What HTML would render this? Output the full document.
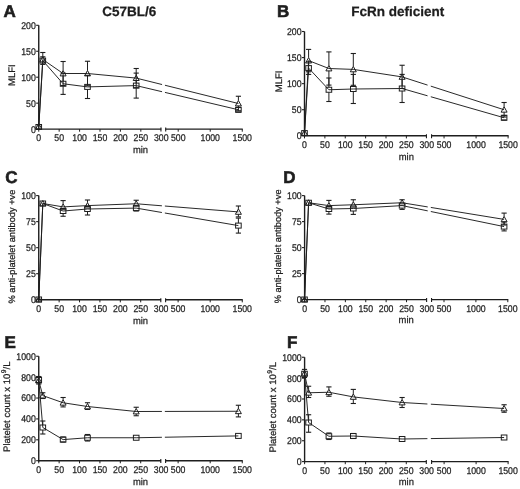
<!DOCTYPE html>
<html><head><meta charset="utf-8"><style>
html,body{margin:0;padding:0;background:#fff;}
body{width:520px;height:489px;overflow:hidden;}
svg{display:block;font-family:"Liberation Sans", sans-serif;text-rendering:geometricPrecision;filter:grayscale(1) blur(0.3px);}
text{fill:#1e1e1e;stroke:#1e1e1e;stroke-width:0.25px;}
</style></head><body>
<svg width="520" height="489" viewBox="0 0 520 489">
<rect width="520" height="489" fill="#fff"/>
<line x1="38.75" y1="129.8" x2="38.75" y2="25.3" stroke="#1e1e1e" stroke-width="1.4"/>
<line x1="36.15" y1="129.1" x2="38.75" y2="129.1" stroke="#1e1e1e" stroke-width="1.1"/>
<text transform="translate(35.75 132.5) scale(0.895 1)" font-size="9.75" text-anchor="end">0</text>
<line x1="36.15" y1="103.15" x2="38.75" y2="103.15" stroke="#1e1e1e" stroke-width="1.1"/>
<text transform="translate(35.75 106.55) scale(0.895 1)" font-size="9.75" text-anchor="end">50</text>
<line x1="36.15" y1="77.2" x2="38.75" y2="77.2" stroke="#1e1e1e" stroke-width="1.1"/>
<text transform="translate(35.75 80.6) scale(0.895 1)" font-size="9.75" text-anchor="end">100</text>
<line x1="36.15" y1="51.25" x2="38.75" y2="51.25" stroke="#1e1e1e" stroke-width="1.1"/>
<text transform="translate(35.75 54.65) scale(0.895 1)" font-size="9.75" text-anchor="end">150</text>
<line x1="36.15" y1="25.3" x2="38.75" y2="25.3" stroke="#1e1e1e" stroke-width="1.1"/>
<text transform="translate(35.75 28.7) scale(0.895 1)" font-size="9.75" text-anchor="end">200</text>
<line x1="38.05" y1="129.1" x2="161.25" y2="129.1" stroke="#1e1e1e" stroke-width="1.4"/>
<line x1="165.4" y1="129.1" x2="242.75" y2="129.1" stroke="#1e1e1e" stroke-width="1.4"/>
<line x1="160.95" y1="127.5" x2="160.95" y2="131.5" stroke="#1e1e1e" stroke-width="1.1"/>
<line x1="165.7" y1="127.5" x2="165.7" y2="131.5" stroke="#1e1e1e" stroke-width="1.1"/>
<line x1="38.75" y1="129.1" x2="38.75" y2="131.7" stroke="#1e1e1e" stroke-width="1.0"/>
<text transform="translate(38.75 141.1) scale(0.895 1)" font-size="9.75" text-anchor="middle">0</text>
<line x1="59.17" y1="129.1" x2="59.17" y2="131.7" stroke="#1e1e1e" stroke-width="1.0"/>
<text transform="translate(59.17 141.1) scale(0.895 1)" font-size="9.75" text-anchor="middle">50</text>
<line x1="79.58" y1="129.1" x2="79.58" y2="131.7" stroke="#1e1e1e" stroke-width="1.0"/>
<text transform="translate(79.58 141.1) scale(0.895 1)" font-size="9.75" text-anchor="middle">100</text>
<line x1="100" y1="129.1" x2="100" y2="131.7" stroke="#1e1e1e" stroke-width="1.0"/>
<text transform="translate(100 141.1) scale(0.895 1)" font-size="9.75" text-anchor="middle">150</text>
<line x1="120.42" y1="129.1" x2="120.42" y2="131.7" stroke="#1e1e1e" stroke-width="1.0"/>
<text transform="translate(120.42 141.1) scale(0.895 1)" font-size="9.75" text-anchor="middle">200</text>
<line x1="140.83" y1="129.1" x2="140.83" y2="131.7" stroke="#1e1e1e" stroke-width="1.0"/>
<text transform="translate(140.83 141.1) scale(0.895 1)" font-size="9.75" text-anchor="middle">250</text>
<text transform="translate(161.25 141.1) scale(0.895 1)" font-size="9.75" text-anchor="middle">300</text>
<line x1="178.21" y1="129.1" x2="178.21" y2="131.7" stroke="#1e1e1e" stroke-width="1.0"/>
<text transform="translate(178.21 141.1) scale(0.895 1)" font-size="9.75" text-anchor="middle">500</text>
<line x1="210.23" y1="129.1" x2="210.23" y2="131.7" stroke="#1e1e1e" stroke-width="1.0"/>
<text transform="translate(210.23 141.1) scale(0.895 1)" font-size="9.75" text-anchor="middle">1000</text>
<line x1="242.25" y1="129.1" x2="242.25" y2="131.7" stroke="#1e1e1e" stroke-width="1.0"/>
<text transform="translate(242.25 141.1) scale(0.895 1)" font-size="9.75" text-anchor="middle">1500</text>
<text transform="translate(140.5 152.9) scale(0.97 1)" font-size="9.7" text-anchor="middle">min</text>
<text x="15.4" y="75.15" font-size="9.5" text-anchor="middle" transform="rotate(-90 15.4 75.15)">MLFI</text>
<text x="3.6" y="16.6" font-size="17.0" font-weight="bold" style="stroke-width:0.6px">A</text>
<text x="129.2" y="15.8" font-size="13.5" text-anchor="middle" font-weight="bold">C57BL/6</text>
<clipPath id="cA"><rect x="0" y="0" width="162.05" height="489"/><rect x="164.95" y="0" width="355.05" height="489"/></clipPath>
<path d="M38.75 126.5 L42.8 59.5 L63.1 73.5 L87.5 73.5 L136.2 78.1 L238.4 103.5" fill="none" stroke="#1e1e1e" stroke-width="0.95" clip-path="url(#cA)"/>
<path d="M38.75 127 L42.8 60.6 L63.1 83.75 L87.5 86.9 L136.2 85.6 L238.4 109.75" fill="none" stroke="#1e1e1e" stroke-width="0.95" clip-path="url(#cA)"/>
<line x1="42.8" y1="56.5" x2="42.8" y2="52.5" stroke="#1e1e1e" stroke-width="1.0"/>
<line x1="40.2" y1="52.5" x2="45.4" y2="52.5" stroke="#1e1e1e" stroke-width="1.1"/>
<line x1="63.1" y1="70.5" x2="63.1" y2="61.5" stroke="#1e1e1e" stroke-width="1.0"/>
<line x1="60.5" y1="61.5" x2="65.7" y2="61.5" stroke="#1e1e1e" stroke-width="1.1"/>
<line x1="63.1" y1="75.9" x2="63.1" y2="85.5" stroke="#1e1e1e" stroke-width="1.0"/>
<line x1="60.5" y1="85.5" x2="65.7" y2="85.5" stroke="#1e1e1e" stroke-width="1.1"/>
<line x1="87.5" y1="70.5" x2="87.5" y2="61.25" stroke="#1e1e1e" stroke-width="1.0"/>
<line x1="84.9" y1="61.25" x2="90.1" y2="61.25" stroke="#1e1e1e" stroke-width="1.1"/>
<line x1="87.5" y1="75.9" x2="87.5" y2="85.75" stroke="#1e1e1e" stroke-width="1.0"/>
<line x1="84.9" y1="85.75" x2="90.1" y2="85.75" stroke="#1e1e1e" stroke-width="1.1"/>
<line x1="136.2" y1="75.1" x2="136.2" y2="68.5" stroke="#1e1e1e" stroke-width="1.0"/>
<line x1="133.6" y1="68.5" x2="138.8" y2="68.5" stroke="#1e1e1e" stroke-width="1.1"/>
<line x1="136.2" y1="80.5" x2="136.2" y2="87.7" stroke="#1e1e1e" stroke-width="1.0"/>
<line x1="133.6" y1="87.7" x2="138.8" y2="87.7" stroke="#1e1e1e" stroke-width="1.1"/>
<line x1="238.4" y1="100.5" x2="238.4" y2="96.25" stroke="#1e1e1e" stroke-width="1.0"/>
<line x1="235.8" y1="96.25" x2="241" y2="96.25" stroke="#1e1e1e" stroke-width="1.1"/>
<line x1="238.4" y1="105.9" x2="238.4" y2="110.75" stroke="#1e1e1e" stroke-width="1.0"/>
<line x1="235.8" y1="110.75" x2="241" y2="110.75" stroke="#1e1e1e" stroke-width="1.1"/>
<line x1="42.8" y1="58.1" x2="42.8" y2="56.8" stroke="#1e1e1e" stroke-width="1.0"/>
<line x1="40.2" y1="56.8" x2="45.4" y2="56.8" stroke="#1e1e1e" stroke-width="1.1"/>
<line x1="42.8" y1="63.1" x2="42.8" y2="64.4" stroke="#1e1e1e" stroke-width="1.0"/>
<line x1="40.2" y1="64.4" x2="45.4" y2="64.4" stroke="#1e1e1e" stroke-width="1.1"/>
<line x1="63.1" y1="81.25" x2="63.1" y2="73.1" stroke="#1e1e1e" stroke-width="1.0"/>
<line x1="60.5" y1="73.1" x2="65.7" y2="73.1" stroke="#1e1e1e" stroke-width="1.1"/>
<line x1="63.1" y1="86.25" x2="63.1" y2="94.4" stroke="#1e1e1e" stroke-width="1.0"/>
<line x1="60.5" y1="94.4" x2="65.7" y2="94.4" stroke="#1e1e1e" stroke-width="1.1"/>
<line x1="87.5" y1="84.4" x2="87.5" y2="75.3" stroke="#1e1e1e" stroke-width="1.0"/>
<line x1="84.9" y1="75.3" x2="90.1" y2="75.3" stroke="#1e1e1e" stroke-width="1.1"/>
<line x1="87.5" y1="89.4" x2="87.5" y2="98.5" stroke="#1e1e1e" stroke-width="1.0"/>
<line x1="84.9" y1="98.5" x2="90.1" y2="98.5" stroke="#1e1e1e" stroke-width="1.1"/>
<line x1="136.2" y1="83.1" x2="136.2" y2="73.1" stroke="#1e1e1e" stroke-width="1.0"/>
<line x1="133.6" y1="73.1" x2="138.8" y2="73.1" stroke="#1e1e1e" stroke-width="1.1"/>
<line x1="136.2" y1="88.1" x2="136.2" y2="98.1" stroke="#1e1e1e" stroke-width="1.0"/>
<line x1="133.6" y1="98.1" x2="138.8" y2="98.1" stroke="#1e1e1e" stroke-width="1.1"/>
<line x1="235.8" y1="107.5" x2="241" y2="107.5" stroke="#1e1e1e" stroke-width="1.1"/>
<line x1="235.8" y1="112" x2="241" y2="112" stroke="#1e1e1e" stroke-width="1.1"/>
<path d="M38.75 123.5 L41.75 128.9 L35.75 128.9 Z" fill="none" stroke="#1e1e1e" stroke-width="1.0" stroke-linejoin="miter"/>
<path d="M42.8 56.5 L45.8 61.9 L39.8 61.9 Z" fill="none" stroke="#1e1e1e" stroke-width="1.0" stroke-linejoin="miter"/>
<path d="M63.1 70.5 L66.1 75.9 L60.1 75.9 Z" fill="none" stroke="#1e1e1e" stroke-width="1.0" stroke-linejoin="miter"/>
<path d="M87.5 70.5 L90.5 75.9 L84.5 75.9 Z" fill="none" stroke="#1e1e1e" stroke-width="1.0" stroke-linejoin="miter"/>
<path d="M136.2 75.1 L139.2 80.5 L133.2 80.5 Z" fill="none" stroke="#1e1e1e" stroke-width="1.0" stroke-linejoin="miter"/>
<path d="M238.4 100.5 L241.4 105.9 L235.4 105.9 Z" fill="none" stroke="#1e1e1e" stroke-width="1.0" stroke-linejoin="miter"/>
<rect x="35.95" y="124.5" width="5.6" height="5" fill="none" stroke="#1e1e1e" stroke-width="1.0"/>
<rect x="40" y="58.1" width="5.6" height="5" fill="none" stroke="#1e1e1e" stroke-width="1.0"/>
<rect x="60.3" y="81.25" width="5.6" height="5" fill="none" stroke="#1e1e1e" stroke-width="1.0"/>
<rect x="84.7" y="84.4" width="5.6" height="5" fill="none" stroke="#1e1e1e" stroke-width="1.0"/>
<rect x="133.4" y="83.1" width="5.6" height="5" fill="none" stroke="#1e1e1e" stroke-width="1.0"/>
<rect x="235.6" y="107.25" width="5.6" height="5" fill="none" stroke="#1e1e1e" stroke-width="1.0"/>
<line x1="304.5" y1="136.5" x2="304.5" y2="31.5" stroke="#1e1e1e" stroke-width="1.4"/>
<line x1="301.9" y1="135.8" x2="304.5" y2="135.8" stroke="#1e1e1e" stroke-width="1.1"/>
<text transform="translate(301.5 139.2) scale(0.895 1)" font-size="9.75" text-anchor="end">0</text>
<line x1="301.9" y1="109.73" x2="304.5" y2="109.73" stroke="#1e1e1e" stroke-width="1.1"/>
<text transform="translate(301.5 113.13) scale(0.895 1)" font-size="9.75" text-anchor="end">50</text>
<line x1="301.9" y1="83.65" x2="304.5" y2="83.65" stroke="#1e1e1e" stroke-width="1.1"/>
<text transform="translate(301.5 87.05) scale(0.895 1)" font-size="9.75" text-anchor="end">100</text>
<line x1="301.9" y1="57.58" x2="304.5" y2="57.58" stroke="#1e1e1e" stroke-width="1.1"/>
<text transform="translate(301.5 60.98) scale(0.895 1)" font-size="9.75" text-anchor="end">150</text>
<line x1="301.9" y1="31.5" x2="304.5" y2="31.5" stroke="#1e1e1e" stroke-width="1.1"/>
<text transform="translate(301.5 34.9) scale(0.895 1)" font-size="9.75" text-anchor="end">200</text>
<line x1="303.8" y1="135.8" x2="426.75" y2="135.8" stroke="#1e1e1e" stroke-width="1.4"/>
<line x1="431.25" y1="135.8" x2="508.6" y2="135.8" stroke="#1e1e1e" stroke-width="1.4"/>
<line x1="426.45" y1="134.2" x2="426.45" y2="138.2" stroke="#1e1e1e" stroke-width="1.1"/>
<line x1="431.55" y1="134.2" x2="431.55" y2="138.2" stroke="#1e1e1e" stroke-width="1.1"/>
<line x1="304.5" y1="135.8" x2="304.5" y2="138.4" stroke="#1e1e1e" stroke-width="1.0"/>
<text transform="translate(304.5 147.8) scale(0.895 1)" font-size="9.75" text-anchor="middle">0</text>
<line x1="324.88" y1="135.8" x2="324.88" y2="138.4" stroke="#1e1e1e" stroke-width="1.0"/>
<text transform="translate(324.88 147.8) scale(0.895 1)" font-size="9.75" text-anchor="middle">50</text>
<line x1="345.25" y1="135.8" x2="345.25" y2="138.4" stroke="#1e1e1e" stroke-width="1.0"/>
<text transform="translate(345.25 147.8) scale(0.895 1)" font-size="9.75" text-anchor="middle">100</text>
<line x1="365.62" y1="135.8" x2="365.62" y2="138.4" stroke="#1e1e1e" stroke-width="1.0"/>
<text transform="translate(365.62 147.8) scale(0.895 1)" font-size="9.75" text-anchor="middle">150</text>
<line x1="386" y1="135.8" x2="386" y2="138.4" stroke="#1e1e1e" stroke-width="1.0"/>
<text transform="translate(386 147.8) scale(0.895 1)" font-size="9.75" text-anchor="middle">200</text>
<line x1="406.38" y1="135.8" x2="406.38" y2="138.4" stroke="#1e1e1e" stroke-width="1.0"/>
<text transform="translate(406.38 147.8) scale(0.895 1)" font-size="9.75" text-anchor="middle">250</text>
<text transform="translate(426.75 147.8) scale(0.895 1)" font-size="9.75" text-anchor="middle">300</text>
<line x1="444.06" y1="135.8" x2="444.06" y2="138.4" stroke="#1e1e1e" stroke-width="1.0"/>
<text transform="translate(444.06 147.8) scale(0.895 1)" font-size="9.75" text-anchor="middle">500</text>
<line x1="476.08" y1="135.8" x2="476.08" y2="138.4" stroke="#1e1e1e" stroke-width="1.0"/>
<text transform="translate(476.08 147.8) scale(0.895 1)" font-size="9.75" text-anchor="middle">1000</text>
<line x1="508.1" y1="135.8" x2="508.1" y2="138.4" stroke="#1e1e1e" stroke-width="1.0"/>
<text transform="translate(508.1 147.8) scale(0.895 1)" font-size="9.75" text-anchor="middle">1500</text>
<text transform="translate(406.3 159.6) scale(0.97 1)" font-size="9.7" text-anchor="middle">min</text>
<text x="281.6" y="81.4" font-size="9.5" text-anchor="middle" transform="rotate(-90 281.6 81.4)">MLFI</text>
<text x="276.9" y="16.6" font-size="17.0" font-weight="bold" style="stroke-width:0.6px">B</text>
<text x="397.7" y="16.1" font-size="13.5" text-anchor="middle" font-weight="bold">FcRn deficient</text>
<clipPath id="cB"><rect x="0" y="0" width="427.55" height="489"/><rect x="430.8" y="0" width="89.2" height="489"/></clipPath>
<path d="M304.5 133.1 L308.6 60.6 L328.9 68.5 L353.3 69.4 L402.1 76.9 L504.1 109.75" fill="none" stroke="#1e1e1e" stroke-width="0.95" clip-path="url(#cB)"/>
<path d="M304.5 133.1 L308.6 68.1 L328.9 89.75 L353.3 89 L402.1 88.5 L504.1 117.75" fill="none" stroke="#1e1e1e" stroke-width="0.95" clip-path="url(#cB)"/>
<line x1="308.6" y1="57.6" x2="308.6" y2="49.4" stroke="#1e1e1e" stroke-width="1.0"/>
<line x1="306" y1="49.4" x2="311.2" y2="49.4" stroke="#1e1e1e" stroke-width="1.1"/>
<line x1="308.6" y1="63" x2="308.6" y2="71.8" stroke="#1e1e1e" stroke-width="1.0"/>
<line x1="306" y1="71.8" x2="311.2" y2="71.8" stroke="#1e1e1e" stroke-width="1.1"/>
<line x1="328.9" y1="65.5" x2="328.9" y2="51.9" stroke="#1e1e1e" stroke-width="1.0"/>
<line x1="326.3" y1="51.9" x2="331.5" y2="51.9" stroke="#1e1e1e" stroke-width="1.1"/>
<line x1="328.9" y1="70.9" x2="328.9" y2="85.1" stroke="#1e1e1e" stroke-width="1.0"/>
<line x1="326.3" y1="85.1" x2="331.5" y2="85.1" stroke="#1e1e1e" stroke-width="1.1"/>
<line x1="353.3" y1="66.4" x2="353.3" y2="53.5" stroke="#1e1e1e" stroke-width="1.0"/>
<line x1="350.7" y1="53.5" x2="355.9" y2="53.5" stroke="#1e1e1e" stroke-width="1.1"/>
<line x1="353.3" y1="71.8" x2="353.3" y2="85.3" stroke="#1e1e1e" stroke-width="1.0"/>
<line x1="350.7" y1="85.3" x2="355.9" y2="85.3" stroke="#1e1e1e" stroke-width="1.1"/>
<line x1="402.1" y1="73.9" x2="402.1" y2="65.25" stroke="#1e1e1e" stroke-width="1.0"/>
<line x1="399.5" y1="65.25" x2="404.7" y2="65.25" stroke="#1e1e1e" stroke-width="1.1"/>
<line x1="402.1" y1="79.3" x2="402.1" y2="88.5" stroke="#1e1e1e" stroke-width="1.0"/>
<line x1="399.5" y1="88.5" x2="404.7" y2="88.5" stroke="#1e1e1e" stroke-width="1.1"/>
<line x1="504.1" y1="106.75" x2="504.1" y2="102.5" stroke="#1e1e1e" stroke-width="1.0"/>
<line x1="501.5" y1="102.5" x2="506.7" y2="102.5" stroke="#1e1e1e" stroke-width="1.1"/>
<line x1="504.1" y1="112.15" x2="504.1" y2="117" stroke="#1e1e1e" stroke-width="1.0"/>
<line x1="501.5" y1="117" x2="506.7" y2="117" stroke="#1e1e1e" stroke-width="1.1"/>
<line x1="308.6" y1="65.6" x2="308.6" y2="61.8" stroke="#1e1e1e" stroke-width="1.0"/>
<line x1="306" y1="61.8" x2="311.2" y2="61.8" stroke="#1e1e1e" stroke-width="1.1"/>
<line x1="308.6" y1="70.6" x2="308.6" y2="74.4" stroke="#1e1e1e" stroke-width="1.0"/>
<line x1="306" y1="74.4" x2="311.2" y2="74.4" stroke="#1e1e1e" stroke-width="1.1"/>
<line x1="328.9" y1="87.25" x2="328.9" y2="78" stroke="#1e1e1e" stroke-width="1.0"/>
<line x1="326.3" y1="78" x2="331.5" y2="78" stroke="#1e1e1e" stroke-width="1.1"/>
<line x1="328.9" y1="92.25" x2="328.9" y2="101.5" stroke="#1e1e1e" stroke-width="1.0"/>
<line x1="326.3" y1="101.5" x2="331.5" y2="101.5" stroke="#1e1e1e" stroke-width="1.1"/>
<line x1="353.3" y1="86.5" x2="353.3" y2="74.4" stroke="#1e1e1e" stroke-width="1.0"/>
<line x1="350.7" y1="74.4" x2="355.9" y2="74.4" stroke="#1e1e1e" stroke-width="1.1"/>
<line x1="353.3" y1="91.5" x2="353.3" y2="103.5" stroke="#1e1e1e" stroke-width="1.0"/>
<line x1="350.7" y1="103.5" x2="355.9" y2="103.5" stroke="#1e1e1e" stroke-width="1.1"/>
<line x1="402.1" y1="86" x2="402.1" y2="74.4" stroke="#1e1e1e" stroke-width="1.0"/>
<line x1="399.5" y1="74.4" x2="404.7" y2="74.4" stroke="#1e1e1e" stroke-width="1.1"/>
<line x1="402.1" y1="91" x2="402.1" y2="102.5" stroke="#1e1e1e" stroke-width="1.0"/>
<line x1="399.5" y1="102.5" x2="404.7" y2="102.5" stroke="#1e1e1e" stroke-width="1.1"/>
<line x1="501.5" y1="115.5" x2="506.7" y2="115.5" stroke="#1e1e1e" stroke-width="1.1"/>
<line x1="501.5" y1="120" x2="506.7" y2="120" stroke="#1e1e1e" stroke-width="1.1"/>
<path d="M304.5 130.1 L307.5 135.5 L301.5 135.5 Z" fill="none" stroke="#1e1e1e" stroke-width="1.0" stroke-linejoin="miter"/>
<path d="M308.6 57.6 L311.6 63 L305.6 63 Z" fill="none" stroke="#1e1e1e" stroke-width="1.0" stroke-linejoin="miter"/>
<path d="M328.9 65.5 L331.9 70.9 L325.9 70.9 Z" fill="none" stroke="#1e1e1e" stroke-width="1.0" stroke-linejoin="miter"/>
<path d="M353.3 66.4 L356.3 71.8 L350.3 71.8 Z" fill="none" stroke="#1e1e1e" stroke-width="1.0" stroke-linejoin="miter"/>
<path d="M402.1 73.9 L405.1 79.3 L399.1 79.3 Z" fill="none" stroke="#1e1e1e" stroke-width="1.0" stroke-linejoin="miter"/>
<path d="M504.1 106.75 L507.1 112.15 L501.1 112.15 Z" fill="none" stroke="#1e1e1e" stroke-width="1.0" stroke-linejoin="miter"/>
<rect x="301.7" y="130.6" width="5.6" height="5" fill="none" stroke="#1e1e1e" stroke-width="1.0"/>
<rect x="305.8" y="65.6" width="5.6" height="5" fill="none" stroke="#1e1e1e" stroke-width="1.0"/>
<rect x="326.1" y="87.25" width="5.6" height="5" fill="none" stroke="#1e1e1e" stroke-width="1.0"/>
<rect x="350.5" y="86.5" width="5.6" height="5" fill="none" stroke="#1e1e1e" stroke-width="1.0"/>
<rect x="399.3" y="86" width="5.6" height="5" fill="none" stroke="#1e1e1e" stroke-width="1.0"/>
<rect x="501.3" y="115.25" width="5.6" height="5" fill="none" stroke="#1e1e1e" stroke-width="1.0"/>
<line x1="38.75" y1="300.45" x2="38.75" y2="195.6" stroke="#1e1e1e" stroke-width="1.4"/>
<line x1="36.15" y1="299.75" x2="38.75" y2="299.75" stroke="#1e1e1e" stroke-width="1.1"/>
<text transform="translate(35.75 303.15) scale(0.895 1)" font-size="9.75" text-anchor="end">0</text>
<line x1="36.15" y1="273.71" x2="38.75" y2="273.71" stroke="#1e1e1e" stroke-width="1.1"/>
<text transform="translate(35.75 277.11) scale(0.895 1)" font-size="9.75" text-anchor="end">25</text>
<line x1="36.15" y1="247.68" x2="38.75" y2="247.68" stroke="#1e1e1e" stroke-width="1.1"/>
<text transform="translate(35.75 251.08) scale(0.895 1)" font-size="9.75" text-anchor="end">50</text>
<line x1="36.15" y1="221.64" x2="38.75" y2="221.64" stroke="#1e1e1e" stroke-width="1.1"/>
<text transform="translate(35.75 225.04) scale(0.895 1)" font-size="9.75" text-anchor="end">75</text>
<line x1="36.15" y1="195.6" x2="38.75" y2="195.6" stroke="#1e1e1e" stroke-width="1.1"/>
<text transform="translate(35.75 199) scale(0.895 1)" font-size="9.75" text-anchor="end">100</text>
<line x1="38.05" y1="299.75" x2="161.1" y2="299.75" stroke="#1e1e1e" stroke-width="1.4"/>
<line x1="165.3" y1="299.75" x2="242.75" y2="299.75" stroke="#1e1e1e" stroke-width="1.4"/>
<line x1="160.8" y1="298.15" x2="160.8" y2="302.15" stroke="#1e1e1e" stroke-width="1.1"/>
<line x1="165.6" y1="298.15" x2="165.6" y2="302.15" stroke="#1e1e1e" stroke-width="1.1"/>
<line x1="38.75" y1="299.75" x2="38.75" y2="302.35" stroke="#1e1e1e" stroke-width="1.0"/>
<text transform="translate(38.75 311.75) scale(0.895 1)" font-size="9.75" text-anchor="middle">0</text>
<line x1="59.14" y1="299.75" x2="59.14" y2="302.35" stroke="#1e1e1e" stroke-width="1.0"/>
<text transform="translate(59.14 311.75) scale(0.895 1)" font-size="9.75" text-anchor="middle">50</text>
<line x1="79.53" y1="299.75" x2="79.53" y2="302.35" stroke="#1e1e1e" stroke-width="1.0"/>
<text transform="translate(79.53 311.75) scale(0.895 1)" font-size="9.75" text-anchor="middle">100</text>
<line x1="99.92" y1="299.75" x2="99.92" y2="302.35" stroke="#1e1e1e" stroke-width="1.0"/>
<text transform="translate(99.92 311.75) scale(0.895 1)" font-size="9.75" text-anchor="middle">150</text>
<line x1="120.32" y1="299.75" x2="120.32" y2="302.35" stroke="#1e1e1e" stroke-width="1.0"/>
<text transform="translate(120.32 311.75) scale(0.895 1)" font-size="9.75" text-anchor="middle">200</text>
<line x1="140.71" y1="299.75" x2="140.71" y2="302.35" stroke="#1e1e1e" stroke-width="1.0"/>
<text transform="translate(140.71 311.75) scale(0.895 1)" font-size="9.75" text-anchor="middle">250</text>
<text transform="translate(161.1 311.75) scale(0.895 1)" font-size="9.75" text-anchor="middle">300</text>
<line x1="178.12" y1="299.75" x2="178.12" y2="302.35" stroke="#1e1e1e" stroke-width="1.0"/>
<text transform="translate(178.12 311.75) scale(0.895 1)" font-size="9.75" text-anchor="middle">500</text>
<line x1="210.19" y1="299.75" x2="210.19" y2="302.35" stroke="#1e1e1e" stroke-width="1.0"/>
<text transform="translate(210.19 311.75) scale(0.895 1)" font-size="9.75" text-anchor="middle">1000</text>
<line x1="242.25" y1="299.75" x2="242.25" y2="302.35" stroke="#1e1e1e" stroke-width="1.0"/>
<text transform="translate(242.25 311.75) scale(0.895 1)" font-size="9.75" text-anchor="middle">1500</text>
<text transform="translate(140.5 323.55) scale(0.97 1)" font-size="9.7" text-anchor="middle">min</text>
<text x="15.5" y="246.6" font-size="9.25" text-anchor="middle" transform="rotate(-90 15.5 246.6)">% anti-platelet antibody +ve</text>
<text x="5.2" y="183.1" font-size="17.0" font-weight="bold" style="stroke-width:0.6px">C</text>
<clipPath id="cC"><rect x="0" y="0" width="161.9" height="489"/><rect x="164.85" y="0" width="355.15" height="489"/></clipPath>
<path d="M38.75 299.5 L42.8 203.5 L63.1 206.9 L87.5 205.6 L136.2 203.75 L238.4 211.9" fill="none" stroke="#1e1e1e" stroke-width="0.95" clip-path="url(#cC)"/>
<path d="M38.75 299.5 L42.8 203.5 L63.1 211 L87.5 209 L136.2 208.1 L238.4 225.6" fill="none" stroke="#1e1e1e" stroke-width="0.95" clip-path="url(#cC)"/>
<line x1="63.1" y1="203.9" x2="63.1" y2="200.6" stroke="#1e1e1e" stroke-width="1.0"/>
<line x1="60.5" y1="200.6" x2="65.7" y2="200.6" stroke="#1e1e1e" stroke-width="1.1"/>
<line x1="87.5" y1="202.6" x2="87.5" y2="200" stroke="#1e1e1e" stroke-width="1.0"/>
<line x1="84.9" y1="200" x2="90.1" y2="200" stroke="#1e1e1e" stroke-width="1.1"/>
<line x1="136.2" y1="200.75" x2="136.2" y2="200.25" stroke="#1e1e1e" stroke-width="1.0"/>
<line x1="133.6" y1="200.25" x2="138.8" y2="200.25" stroke="#1e1e1e" stroke-width="1.1"/>
<line x1="238.4" y1="208.9" x2="238.4" y2="206" stroke="#1e1e1e" stroke-width="1.0"/>
<line x1="235.8" y1="206" x2="241" y2="206" stroke="#1e1e1e" stroke-width="1.1"/>
<line x1="238.4" y1="214.3" x2="238.4" y2="216.9" stroke="#1e1e1e" stroke-width="1.0"/>
<line x1="235.8" y1="216.9" x2="241" y2="216.9" stroke="#1e1e1e" stroke-width="1.1"/>
<line x1="63.1" y1="213.5" x2="63.1" y2="216.25" stroke="#1e1e1e" stroke-width="1.0"/>
<line x1="60.5" y1="216.25" x2="65.7" y2="216.25" stroke="#1e1e1e" stroke-width="1.1"/>
<line x1="87.5" y1="211.5" x2="87.5" y2="215" stroke="#1e1e1e" stroke-width="1.0"/>
<line x1="84.9" y1="215" x2="90.1" y2="215" stroke="#1e1e1e" stroke-width="1.1"/>
<line x1="136.2" y1="210.6" x2="136.2" y2="211" stroke="#1e1e1e" stroke-width="1.0"/>
<line x1="133.6" y1="211" x2="138.8" y2="211" stroke="#1e1e1e" stroke-width="1.1"/>
<line x1="238.4" y1="223.1" x2="238.4" y2="218.1" stroke="#1e1e1e" stroke-width="1.0"/>
<line x1="235.8" y1="218.1" x2="241" y2="218.1" stroke="#1e1e1e" stroke-width="1.1"/>
<line x1="238.4" y1="228.1" x2="238.4" y2="233.1" stroke="#1e1e1e" stroke-width="1.0"/>
<line x1="235.8" y1="233.1" x2="241" y2="233.1" stroke="#1e1e1e" stroke-width="1.1"/>
<path d="M38.75 296.5 L41.75 301.9 L35.75 301.9 Z" fill="none" stroke="#1e1e1e" stroke-width="1.0" stroke-linejoin="miter"/>
<path d="M42.8 200.5 L45.8 205.9 L39.8 205.9 Z" fill="none" stroke="#1e1e1e" stroke-width="1.0" stroke-linejoin="miter"/>
<path d="M63.1 203.9 L66.1 209.3 L60.1 209.3 Z" fill="none" stroke="#1e1e1e" stroke-width="1.0" stroke-linejoin="miter"/>
<path d="M87.5 202.6 L90.5 208 L84.5 208 Z" fill="none" stroke="#1e1e1e" stroke-width="1.0" stroke-linejoin="miter"/>
<path d="M136.2 200.75 L139.2 206.15 L133.2 206.15 Z" fill="none" stroke="#1e1e1e" stroke-width="1.0" stroke-linejoin="miter"/>
<path d="M238.4 208.9 L241.4 214.3 L235.4 214.3 Z" fill="none" stroke="#1e1e1e" stroke-width="1.0" stroke-linejoin="miter"/>
<rect x="35.95" y="297" width="5.6" height="5" fill="none" stroke="#1e1e1e" stroke-width="1.0"/>
<rect x="40" y="201" width="5.6" height="5" fill="none" stroke="#1e1e1e" stroke-width="1.0"/>
<rect x="60.3" y="208.5" width="5.6" height="5" fill="none" stroke="#1e1e1e" stroke-width="1.0"/>
<rect x="84.7" y="206.5" width="5.6" height="5" fill="none" stroke="#1e1e1e" stroke-width="1.0"/>
<rect x="133.4" y="205.6" width="5.6" height="5" fill="none" stroke="#1e1e1e" stroke-width="1.0"/>
<rect x="235.6" y="223.1" width="5.6" height="5" fill="none" stroke="#1e1e1e" stroke-width="1.0"/>
<line x1="304.6" y1="300.3" x2="304.6" y2="195.6" stroke="#1e1e1e" stroke-width="1.4"/>
<line x1="302" y1="299.6" x2="304.6" y2="299.6" stroke="#1e1e1e" stroke-width="1.1"/>
<text transform="translate(301.6 303) scale(0.895 1)" font-size="9.75" text-anchor="end">0</text>
<line x1="302" y1="273.6" x2="304.6" y2="273.6" stroke="#1e1e1e" stroke-width="1.1"/>
<text transform="translate(301.6 277) scale(0.895 1)" font-size="9.75" text-anchor="end">25</text>
<line x1="302" y1="247.6" x2="304.6" y2="247.6" stroke="#1e1e1e" stroke-width="1.1"/>
<text transform="translate(301.6 251) scale(0.895 1)" font-size="9.75" text-anchor="end">50</text>
<line x1="302" y1="221.6" x2="304.6" y2="221.6" stroke="#1e1e1e" stroke-width="1.1"/>
<text transform="translate(301.6 225) scale(0.895 1)" font-size="9.75" text-anchor="end">75</text>
<line x1="302" y1="195.6" x2="304.6" y2="195.6" stroke="#1e1e1e" stroke-width="1.1"/>
<text transform="translate(301.6 199) scale(0.895 1)" font-size="9.75" text-anchor="end">100</text>
<line x1="303.9" y1="299.6" x2="426.9" y2="299.6" stroke="#1e1e1e" stroke-width="1.4"/>
<line x1="431.25" y1="299.6" x2="508.3" y2="299.6" stroke="#1e1e1e" stroke-width="1.4"/>
<line x1="426.6" y1="298" x2="426.6" y2="302" stroke="#1e1e1e" stroke-width="1.1"/>
<line x1="431.55" y1="298" x2="431.55" y2="302" stroke="#1e1e1e" stroke-width="1.1"/>
<line x1="304.6" y1="299.6" x2="304.6" y2="302.2" stroke="#1e1e1e" stroke-width="1.0"/>
<text transform="translate(304.6 311.6) scale(0.895 1)" font-size="9.75" text-anchor="middle">0</text>
<line x1="324.98" y1="299.6" x2="324.98" y2="302.2" stroke="#1e1e1e" stroke-width="1.0"/>
<text transform="translate(324.98 311.6) scale(0.895 1)" font-size="9.75" text-anchor="middle">50</text>
<line x1="345.37" y1="299.6" x2="345.37" y2="302.2" stroke="#1e1e1e" stroke-width="1.0"/>
<text transform="translate(345.37 311.6) scale(0.895 1)" font-size="9.75" text-anchor="middle">100</text>
<line x1="365.75" y1="299.6" x2="365.75" y2="302.2" stroke="#1e1e1e" stroke-width="1.0"/>
<text transform="translate(365.75 311.6) scale(0.895 1)" font-size="9.75" text-anchor="middle">150</text>
<line x1="386.13" y1="299.6" x2="386.13" y2="302.2" stroke="#1e1e1e" stroke-width="1.0"/>
<text transform="translate(386.13 311.6) scale(0.895 1)" font-size="9.75" text-anchor="middle">200</text>
<line x1="406.52" y1="299.6" x2="406.52" y2="302.2" stroke="#1e1e1e" stroke-width="1.0"/>
<text transform="translate(406.52 311.6) scale(0.895 1)" font-size="9.75" text-anchor="middle">250</text>
<text transform="translate(426.9 311.6) scale(0.895 1)" font-size="9.75" text-anchor="middle">300</text>
<line x1="444.01" y1="299.6" x2="444.01" y2="302.2" stroke="#1e1e1e" stroke-width="1.0"/>
<text transform="translate(444.01 311.6) scale(0.895 1)" font-size="9.75" text-anchor="middle">500</text>
<line x1="475.9" y1="299.6" x2="475.9" y2="302.2" stroke="#1e1e1e" stroke-width="1.0"/>
<text transform="translate(475.9 311.6) scale(0.895 1)" font-size="9.75" text-anchor="middle">1000</text>
<line x1="507.8" y1="299.6" x2="507.8" y2="302.2" stroke="#1e1e1e" stroke-width="1.0"/>
<text transform="translate(507.8 311.6) scale(0.895 1)" font-size="9.75" text-anchor="middle">1500</text>
<text transform="translate(406.2 323.4) scale(0.97 1)" font-size="9.7" text-anchor="middle">min</text>
<text x="281.1" y="246.4" font-size="9.25" text-anchor="middle" transform="rotate(-90 281.1 246.4)">% anti-platelet antibody +ve</text>
<text x="283.2" y="182.5" font-size="17.0" font-weight="bold" style="stroke-width:0.6px">D</text>
<clipPath id="cD"><rect x="0" y="0" width="427.7" height="489"/><rect x="430.8" y="0" width="89.2" height="489"/></clipPath>
<path d="M304.5 299.5 L308.6 202.75 L328.9 205.6 L353.3 204.75 L402.1 202.75 L504.1 219.4" fill="none" stroke="#1e1e1e" stroke-width="0.95" clip-path="url(#cD)"/>
<path d="M304.5 299.5 L308.6 202.75 L328.9 209 L353.3 208.5 L402.1 205.6 L504.1 226.6" fill="none" stroke="#1e1e1e" stroke-width="0.95" clip-path="url(#cD)"/>
<line x1="328.9" y1="202.6" x2="328.9" y2="200.4" stroke="#1e1e1e" stroke-width="1.0"/>
<line x1="326.3" y1="200.4" x2="331.5" y2="200.4" stroke="#1e1e1e" stroke-width="1.1"/>
<line x1="353.3" y1="201.75" x2="353.3" y2="199.75" stroke="#1e1e1e" stroke-width="1.0"/>
<line x1="350.7" y1="199.75" x2="355.9" y2="199.75" stroke="#1e1e1e" stroke-width="1.1"/>
<line x1="399.5" y1="199.75" x2="404.7" y2="199.75" stroke="#1e1e1e" stroke-width="1.1"/>
<line x1="504.1" y1="216.4" x2="504.1" y2="213.1" stroke="#1e1e1e" stroke-width="1.0"/>
<line x1="501.5" y1="213.1" x2="506.7" y2="213.1" stroke="#1e1e1e" stroke-width="1.1"/>
<line x1="504.1" y1="221.8" x2="504.1" y2="225" stroke="#1e1e1e" stroke-width="1.0"/>
<line x1="501.5" y1="225" x2="506.7" y2="225" stroke="#1e1e1e" stroke-width="1.1"/>
<line x1="328.9" y1="211.5" x2="328.9" y2="214.1" stroke="#1e1e1e" stroke-width="1.0"/>
<line x1="326.3" y1="214.1" x2="331.5" y2="214.1" stroke="#1e1e1e" stroke-width="1.1"/>
<line x1="353.3" y1="211" x2="353.3" y2="214.4" stroke="#1e1e1e" stroke-width="1.0"/>
<line x1="350.7" y1="214.4" x2="355.9" y2="214.4" stroke="#1e1e1e" stroke-width="1.1"/>
<line x1="402.1" y1="208.1" x2="402.1" y2="209.4" stroke="#1e1e1e" stroke-width="1.0"/>
<line x1="399.5" y1="209.4" x2="404.7" y2="209.4" stroke="#1e1e1e" stroke-width="1.1"/>
<line x1="504.1" y1="224.1" x2="504.1" y2="222" stroke="#1e1e1e" stroke-width="1.0"/>
<line x1="501.5" y1="222" x2="506.7" y2="222" stroke="#1e1e1e" stroke-width="1.1"/>
<line x1="504.1" y1="229.1" x2="504.1" y2="230.9" stroke="#1e1e1e" stroke-width="1.0"/>
<line x1="501.5" y1="230.9" x2="506.7" y2="230.9" stroke="#1e1e1e" stroke-width="1.1"/>
<path d="M304.5 296.5 L307.5 301.9 L301.5 301.9 Z" fill="none" stroke="#1e1e1e" stroke-width="1.0" stroke-linejoin="miter"/>
<path d="M308.6 199.75 L311.6 205.15 L305.6 205.15 Z" fill="none" stroke="#1e1e1e" stroke-width="1.0" stroke-linejoin="miter"/>
<path d="M328.9 202.6 L331.9 208 L325.9 208 Z" fill="none" stroke="#1e1e1e" stroke-width="1.0" stroke-linejoin="miter"/>
<path d="M353.3 201.75 L356.3 207.15 L350.3 207.15 Z" fill="none" stroke="#1e1e1e" stroke-width="1.0" stroke-linejoin="miter"/>
<path d="M402.1 199.75 L405.1 205.15 L399.1 205.15 Z" fill="none" stroke="#1e1e1e" stroke-width="1.0" stroke-linejoin="miter"/>
<path d="M504.1 216.4 L507.1 221.8 L501.1 221.8 Z" fill="none" stroke="#1e1e1e" stroke-width="1.0" stroke-linejoin="miter"/>
<rect x="301.7" y="297" width="5.6" height="5" fill="none" stroke="#1e1e1e" stroke-width="1.0"/>
<rect x="305.8" y="200.25" width="5.6" height="5" fill="none" stroke="#1e1e1e" stroke-width="1.0"/>
<rect x="326.1" y="206.5" width="5.6" height="5" fill="none" stroke="#1e1e1e" stroke-width="1.0"/>
<rect x="350.5" y="206" width="5.6" height="5" fill="none" stroke="#1e1e1e" stroke-width="1.0"/>
<rect x="399.3" y="203.1" width="5.6" height="5" fill="none" stroke="#1e1e1e" stroke-width="1.0"/>
<rect x="501.3" y="224.1" width="5.6" height="5" fill="none" stroke="#1e1e1e" stroke-width="1.0"/>
<line x1="38.75" y1="461.4" x2="38.75" y2="356.25" stroke="#1e1e1e" stroke-width="1.4"/>
<line x1="36.15" y1="460.7" x2="38.75" y2="460.7" stroke="#1e1e1e" stroke-width="1.1"/>
<text transform="translate(35.75 464.1) scale(0.895 1)" font-size="9.75" text-anchor="end">0</text>
<line x1="36.15" y1="439.81" x2="38.75" y2="439.81" stroke="#1e1e1e" stroke-width="1.1"/>
<text transform="translate(35.75 443.21) scale(0.895 1)" font-size="9.75" text-anchor="end">200</text>
<line x1="36.15" y1="418.92" x2="38.75" y2="418.92" stroke="#1e1e1e" stroke-width="1.1"/>
<text transform="translate(35.75 422.32) scale(0.895 1)" font-size="9.75" text-anchor="end">400</text>
<line x1="36.15" y1="398.03" x2="38.75" y2="398.03" stroke="#1e1e1e" stroke-width="1.1"/>
<text transform="translate(35.75 401.43) scale(0.895 1)" font-size="9.75" text-anchor="end">600</text>
<line x1="36.15" y1="377.14" x2="38.75" y2="377.14" stroke="#1e1e1e" stroke-width="1.1"/>
<text transform="translate(35.75 380.54) scale(0.895 1)" font-size="9.75" text-anchor="end">800</text>
<line x1="36.15" y1="356.25" x2="38.75" y2="356.25" stroke="#1e1e1e" stroke-width="1.1"/>
<text transform="translate(35.75 359.65) scale(0.895 1)" font-size="9.75" text-anchor="end">1000</text>
<line x1="38.05" y1="460.7" x2="161.1" y2="460.7" stroke="#1e1e1e" stroke-width="1.4"/>
<line x1="165.3" y1="460.7" x2="242.75" y2="460.7" stroke="#1e1e1e" stroke-width="1.4"/>
<line x1="160.8" y1="459.1" x2="160.8" y2="463.1" stroke="#1e1e1e" stroke-width="1.1"/>
<line x1="165.6" y1="459.1" x2="165.6" y2="463.1" stroke="#1e1e1e" stroke-width="1.1"/>
<line x1="38.75" y1="460.7" x2="38.75" y2="463.3" stroke="#1e1e1e" stroke-width="1.0"/>
<text transform="translate(38.75 472.7) scale(0.895 1)" font-size="9.75" text-anchor="middle">0</text>
<line x1="59.14" y1="460.7" x2="59.14" y2="463.3" stroke="#1e1e1e" stroke-width="1.0"/>
<text transform="translate(59.14 472.7) scale(0.895 1)" font-size="9.75" text-anchor="middle">50</text>
<line x1="79.53" y1="460.7" x2="79.53" y2="463.3" stroke="#1e1e1e" stroke-width="1.0"/>
<text transform="translate(79.53 472.7) scale(0.895 1)" font-size="9.75" text-anchor="middle">100</text>
<line x1="99.92" y1="460.7" x2="99.92" y2="463.3" stroke="#1e1e1e" stroke-width="1.0"/>
<text transform="translate(99.92 472.7) scale(0.895 1)" font-size="9.75" text-anchor="middle">150</text>
<line x1="120.32" y1="460.7" x2="120.32" y2="463.3" stroke="#1e1e1e" stroke-width="1.0"/>
<text transform="translate(120.32 472.7) scale(0.895 1)" font-size="9.75" text-anchor="middle">200</text>
<line x1="140.71" y1="460.7" x2="140.71" y2="463.3" stroke="#1e1e1e" stroke-width="1.0"/>
<text transform="translate(140.71 472.7) scale(0.895 1)" font-size="9.75" text-anchor="middle">250</text>
<text transform="translate(161.1 472.7) scale(0.895 1)" font-size="9.75" text-anchor="middle">300</text>
<line x1="178.12" y1="460.7" x2="178.12" y2="463.3" stroke="#1e1e1e" stroke-width="1.0"/>
<text transform="translate(178.12 472.7) scale(0.895 1)" font-size="9.75" text-anchor="middle">500</text>
<line x1="210.19" y1="460.7" x2="210.19" y2="463.3" stroke="#1e1e1e" stroke-width="1.0"/>
<text transform="translate(210.19 472.7) scale(0.895 1)" font-size="9.75" text-anchor="middle">1000</text>
<line x1="242.25" y1="460.7" x2="242.25" y2="463.3" stroke="#1e1e1e" stroke-width="1.0"/>
<text transform="translate(242.25 472.7) scale(0.895 1)" font-size="9.75" text-anchor="middle">1500</text>
<text transform="translate(140.5 484.5) scale(0.97 1)" font-size="9.7" text-anchor="middle">min</text>
<text x="10.4" y="406.7" font-size="9.5" text-anchor="middle" transform="rotate(-90 10.4 406.7)">Platelet count x 10<tspan dx="0.6" dy="-4.2" font-size="6.8">9</tspan><tspan dy="4.2">/L</tspan></text>
<text x="4.6" y="347.5" font-size="17.0" font-weight="bold" style="stroke-width:0.6px">E</text>
<clipPath id="cE"><rect x="0" y="0" width="161.9" height="489"/><rect x="164.85" y="0" width="355.15" height="489"/></clipPath>
<path d="M38.75 380.6 L42.8 395.6 L63.1 402.75 L87.5 406.5 L136.2 411.5 L238.4 411.25" fill="none" stroke="#1e1e1e" stroke-width="0.95" clip-path="url(#cE)"/>
<path d="M38.75 380 L42.8 427.5 L63.1 439.6 L87.5 437.75 L136.2 437.75 L238.4 435.9" fill="none" stroke="#1e1e1e" stroke-width="0.95" clip-path="url(#cE)"/>
<line x1="38.75" y1="377.6" x2="38.75" y2="376.9" stroke="#1e1e1e" stroke-width="1.0"/>
<line x1="36.15" y1="376.9" x2="41.35" y2="376.9" stroke="#1e1e1e" stroke-width="1.1"/>
<line x1="40.2" y1="392.75" x2="45.4" y2="392.75" stroke="#1e1e1e" stroke-width="1.1"/>
<line x1="42.8" y1="398" x2="42.8" y2="398.5" stroke="#1e1e1e" stroke-width="1.0"/>
<line x1="40.2" y1="398.5" x2="45.4" y2="398.5" stroke="#1e1e1e" stroke-width="1.1"/>
<line x1="63.1" y1="399.75" x2="63.1" y2="397.5" stroke="#1e1e1e" stroke-width="1.0"/>
<line x1="60.5" y1="397.5" x2="65.7" y2="397.5" stroke="#1e1e1e" stroke-width="1.1"/>
<line x1="63.1" y1="405.15" x2="63.1" y2="406.9" stroke="#1e1e1e" stroke-width="1.0"/>
<line x1="60.5" y1="406.9" x2="65.7" y2="406.9" stroke="#1e1e1e" stroke-width="1.1"/>
<line x1="87.5" y1="403.5" x2="87.5" y2="402.75" stroke="#1e1e1e" stroke-width="1.0"/>
<line x1="84.9" y1="402.75" x2="90.1" y2="402.75" stroke="#1e1e1e" stroke-width="1.1"/>
<line x1="87.5" y1="408.9" x2="87.5" y2="409.4" stroke="#1e1e1e" stroke-width="1.0"/>
<line x1="84.9" y1="409.4" x2="90.1" y2="409.4" stroke="#1e1e1e" stroke-width="1.1"/>
<line x1="136.2" y1="408.5" x2="136.2" y2="407.25" stroke="#1e1e1e" stroke-width="1.0"/>
<line x1="133.6" y1="407.25" x2="138.8" y2="407.25" stroke="#1e1e1e" stroke-width="1.1"/>
<line x1="136.2" y1="413.9" x2="136.2" y2="415.75" stroke="#1e1e1e" stroke-width="1.0"/>
<line x1="133.6" y1="415.75" x2="138.8" y2="415.75" stroke="#1e1e1e" stroke-width="1.1"/>
<line x1="238.4" y1="408.25" x2="238.4" y2="405.25" stroke="#1e1e1e" stroke-width="1.0"/>
<line x1="235.8" y1="405.25" x2="241" y2="405.25" stroke="#1e1e1e" stroke-width="1.1"/>
<line x1="238.4" y1="413.65" x2="238.4" y2="416.9" stroke="#1e1e1e" stroke-width="1.0"/>
<line x1="235.8" y1="416.9" x2="241" y2="416.9" stroke="#1e1e1e" stroke-width="1.1"/>
<line x1="38.75" y1="377.5" x2="38.75" y2="376.5" stroke="#1e1e1e" stroke-width="1.0"/>
<line x1="36.15" y1="376.5" x2="41.35" y2="376.5" stroke="#1e1e1e" stroke-width="1.1"/>
<line x1="38.75" y1="382.5" x2="38.75" y2="384" stroke="#1e1e1e" stroke-width="1.0"/>
<line x1="36.15" y1="384" x2="41.35" y2="384" stroke="#1e1e1e" stroke-width="1.1"/>
<line x1="42.8" y1="425" x2="42.8" y2="421" stroke="#1e1e1e" stroke-width="1.0"/>
<line x1="40.2" y1="421" x2="45.4" y2="421" stroke="#1e1e1e" stroke-width="1.1"/>
<line x1="42.8" y1="430" x2="42.8" y2="434" stroke="#1e1e1e" stroke-width="1.0"/>
<line x1="40.2" y1="434" x2="45.4" y2="434" stroke="#1e1e1e" stroke-width="1.1"/>
<line x1="60.5" y1="437" x2="65.7" y2="437" stroke="#1e1e1e" stroke-width="1.1"/>
<line x1="60.5" y1="442" x2="65.7" y2="442" stroke="#1e1e1e" stroke-width="1.1"/>
<line x1="87.5" y1="435.25" x2="87.5" y2="434.5" stroke="#1e1e1e" stroke-width="1.0"/>
<line x1="84.9" y1="434.5" x2="90.1" y2="434.5" stroke="#1e1e1e" stroke-width="1.1"/>
<line x1="87.5" y1="440.25" x2="87.5" y2="441" stroke="#1e1e1e" stroke-width="1.0"/>
<line x1="84.9" y1="441" x2="90.1" y2="441" stroke="#1e1e1e" stroke-width="1.1"/>
<path d="M38.75 377.6 L41.75 383 L35.75 383 Z" fill="none" stroke="#1e1e1e" stroke-width="1.0" stroke-linejoin="miter"/>
<path d="M42.8 392.6 L45.8 398 L39.8 398 Z" fill="none" stroke="#1e1e1e" stroke-width="1.0" stroke-linejoin="miter"/>
<path d="M63.1 399.75 L66.1 405.15 L60.1 405.15 Z" fill="none" stroke="#1e1e1e" stroke-width="1.0" stroke-linejoin="miter"/>
<path d="M87.5 403.5 L90.5 408.9 L84.5 408.9 Z" fill="none" stroke="#1e1e1e" stroke-width="1.0" stroke-linejoin="miter"/>
<path d="M136.2 408.5 L139.2 413.9 L133.2 413.9 Z" fill="none" stroke="#1e1e1e" stroke-width="1.0" stroke-linejoin="miter"/>
<path d="M238.4 408.25 L241.4 413.65 L235.4 413.65 Z" fill="none" stroke="#1e1e1e" stroke-width="1.0" stroke-linejoin="miter"/>
<rect x="35.95" y="377.5" width="5.6" height="5" fill="none" stroke="#1e1e1e" stroke-width="1.0"/>
<rect x="40" y="425" width="5.6" height="5" fill="none" stroke="#1e1e1e" stroke-width="1.0"/>
<rect x="60.3" y="437.1" width="5.6" height="5" fill="none" stroke="#1e1e1e" stroke-width="1.0"/>
<rect x="84.7" y="435.25" width="5.6" height="5" fill="none" stroke="#1e1e1e" stroke-width="1.0"/>
<rect x="133.4" y="435.25" width="5.6" height="5" fill="none" stroke="#1e1e1e" stroke-width="1.0"/>
<rect x="235.6" y="433.4" width="5.6" height="5" fill="none" stroke="#1e1e1e" stroke-width="1.0"/>
<line x1="304.6" y1="462.3" x2="304.6" y2="357.25" stroke="#1e1e1e" stroke-width="1.4"/>
<line x1="302" y1="461.6" x2="304.6" y2="461.6" stroke="#1e1e1e" stroke-width="1.1"/>
<text transform="translate(301.6 465) scale(0.895 1)" font-size="9.75" text-anchor="end">0</text>
<line x1="302" y1="440.73" x2="304.6" y2="440.73" stroke="#1e1e1e" stroke-width="1.1"/>
<text transform="translate(301.6 444.13) scale(0.895 1)" font-size="9.75" text-anchor="end">200</text>
<line x1="302" y1="419.86" x2="304.6" y2="419.86" stroke="#1e1e1e" stroke-width="1.1"/>
<text transform="translate(301.6 423.26) scale(0.895 1)" font-size="9.75" text-anchor="end">400</text>
<line x1="302" y1="398.99" x2="304.6" y2="398.99" stroke="#1e1e1e" stroke-width="1.1"/>
<text transform="translate(301.6 402.39) scale(0.895 1)" font-size="9.75" text-anchor="end">600</text>
<line x1="302" y1="378.12" x2="304.6" y2="378.12" stroke="#1e1e1e" stroke-width="1.1"/>
<text transform="translate(301.6 381.52) scale(0.895 1)" font-size="9.75" text-anchor="end">800</text>
<line x1="302" y1="357.25" x2="304.6" y2="357.25" stroke="#1e1e1e" stroke-width="1.1"/>
<text transform="translate(301.6 360.65) scale(0.895 1)" font-size="9.75" text-anchor="end">1000</text>
<line x1="303.9" y1="461.6" x2="426.6" y2="461.6" stroke="#1e1e1e" stroke-width="1.4"/>
<line x1="431.3" y1="461.6" x2="508.6" y2="461.6" stroke="#1e1e1e" stroke-width="1.4"/>
<line x1="426.3" y1="460" x2="426.3" y2="464" stroke="#1e1e1e" stroke-width="1.1"/>
<line x1="431.6" y1="460" x2="431.6" y2="464" stroke="#1e1e1e" stroke-width="1.1"/>
<line x1="304.6" y1="461.6" x2="304.6" y2="464.2" stroke="#1e1e1e" stroke-width="1.0"/>
<text transform="translate(304.6 473.6) scale(0.895 1)" font-size="9.75" text-anchor="middle">0</text>
<line x1="324.93" y1="461.6" x2="324.93" y2="464.2" stroke="#1e1e1e" stroke-width="1.0"/>
<text transform="translate(324.93 473.6) scale(0.895 1)" font-size="9.75" text-anchor="middle">50</text>
<line x1="345.27" y1="461.6" x2="345.27" y2="464.2" stroke="#1e1e1e" stroke-width="1.0"/>
<text transform="translate(345.27 473.6) scale(0.895 1)" font-size="9.75" text-anchor="middle">100</text>
<line x1="365.6" y1="461.6" x2="365.6" y2="464.2" stroke="#1e1e1e" stroke-width="1.0"/>
<text transform="translate(365.6 473.6) scale(0.895 1)" font-size="9.75" text-anchor="middle">150</text>
<line x1="385.93" y1="461.6" x2="385.93" y2="464.2" stroke="#1e1e1e" stroke-width="1.0"/>
<text transform="translate(385.93 473.6) scale(0.895 1)" font-size="9.75" text-anchor="middle">200</text>
<line x1="406.27" y1="461.6" x2="406.27" y2="464.2" stroke="#1e1e1e" stroke-width="1.0"/>
<text transform="translate(406.27 473.6) scale(0.895 1)" font-size="9.75" text-anchor="middle">250</text>
<text transform="translate(426.6 473.6) scale(0.895 1)" font-size="9.75" text-anchor="middle">300</text>
<line x1="444.1" y1="461.6" x2="444.1" y2="464.2" stroke="#1e1e1e" stroke-width="1.0"/>
<text transform="translate(444.1 473.6) scale(0.895 1)" font-size="9.75" text-anchor="middle">500</text>
<line x1="476.1" y1="461.6" x2="476.1" y2="464.2" stroke="#1e1e1e" stroke-width="1.0"/>
<text transform="translate(476.1 473.6) scale(0.895 1)" font-size="9.75" text-anchor="middle">1000</text>
<line x1="508.1" y1="461.6" x2="508.1" y2="464.2" stroke="#1e1e1e" stroke-width="1.0"/>
<text transform="translate(508.1 473.6) scale(0.895 1)" font-size="9.75" text-anchor="middle">1500</text>
<text transform="translate(406.35 485.4) scale(0.97 1)" font-size="9.7" text-anchor="middle">min</text>
<text x="275.8" y="407.2" font-size="9.5" text-anchor="middle" transform="rotate(-90 275.8 407.2)">Platelet count x 10<tspan dx="0.6" dy="-4.2" font-size="6.8">9</tspan><tspan dy="4.2">/L</tspan></text>
<text x="286.9" y="347.5" font-size="17.0" font-weight="bold" style="stroke-width:0.6px">F</text>
<clipPath id="cF"><rect x="0" y="0" width="427.4" height="489"/><rect x="430.85" y="0" width="89.15" height="489"/></clipPath>
<path d="M304.5 373.5 L308.6 392.75 L328.9 392.25 L353.3 396.9 L402.1 402.5 L504.1 408.5" fill="none" stroke="#1e1e1e" stroke-width="0.95" clip-path="url(#cF)"/>
<path d="M304.5 373.75 L308.6 422.5 L328.9 436.25 L353.3 436 L402.1 439 L504.1 437.5" fill="none" stroke="#1e1e1e" stroke-width="0.95" clip-path="url(#cF)"/>
<line x1="308.6" y1="389.75" x2="308.6" y2="386.25" stroke="#1e1e1e" stroke-width="1.0"/>
<line x1="306" y1="386.25" x2="311.2" y2="386.25" stroke="#1e1e1e" stroke-width="1.1"/>
<line x1="308.6" y1="395.15" x2="308.6" y2="397.5" stroke="#1e1e1e" stroke-width="1.0"/>
<line x1="306" y1="397.5" x2="311.2" y2="397.5" stroke="#1e1e1e" stroke-width="1.1"/>
<line x1="328.9" y1="389.25" x2="328.9" y2="386.9" stroke="#1e1e1e" stroke-width="1.0"/>
<line x1="326.3" y1="386.9" x2="331.5" y2="386.9" stroke="#1e1e1e" stroke-width="1.1"/>
<line x1="328.9" y1="394.65" x2="328.9" y2="396.25" stroke="#1e1e1e" stroke-width="1.0"/>
<line x1="326.3" y1="396.25" x2="331.5" y2="396.25" stroke="#1e1e1e" stroke-width="1.1"/>
<line x1="353.3" y1="393.9" x2="353.3" y2="389.4" stroke="#1e1e1e" stroke-width="1.0"/>
<line x1="350.7" y1="389.4" x2="355.9" y2="389.4" stroke="#1e1e1e" stroke-width="1.1"/>
<line x1="353.3" y1="399.3" x2="353.3" y2="403.5" stroke="#1e1e1e" stroke-width="1.0"/>
<line x1="350.7" y1="403.5" x2="355.9" y2="403.5" stroke="#1e1e1e" stroke-width="1.1"/>
<line x1="402.1" y1="399.5" x2="402.1" y2="397.5" stroke="#1e1e1e" stroke-width="1.0"/>
<line x1="399.5" y1="397.5" x2="404.7" y2="397.5" stroke="#1e1e1e" stroke-width="1.1"/>
<line x1="402.1" y1="404.9" x2="402.1" y2="407.5" stroke="#1e1e1e" stroke-width="1.0"/>
<line x1="399.5" y1="407.5" x2="404.7" y2="407.5" stroke="#1e1e1e" stroke-width="1.1"/>
<line x1="504.1" y1="405.5" x2="504.1" y2="404.75" stroke="#1e1e1e" stroke-width="1.0"/>
<line x1="501.5" y1="404.75" x2="506.7" y2="404.75" stroke="#1e1e1e" stroke-width="1.1"/>
<line x1="504.1" y1="410.9" x2="504.1" y2="412.25" stroke="#1e1e1e" stroke-width="1.0"/>
<line x1="501.5" y1="412.25" x2="506.7" y2="412.25" stroke="#1e1e1e" stroke-width="1.1"/>
<line x1="304.5" y1="371.25" x2="304.5" y2="369.4" stroke="#1e1e1e" stroke-width="1.0"/>
<line x1="301.9" y1="369.4" x2="307.1" y2="369.4" stroke="#1e1e1e" stroke-width="1.1"/>
<line x1="304.5" y1="376.25" x2="304.5" y2="377.5" stroke="#1e1e1e" stroke-width="1.0"/>
<line x1="301.9" y1="377.5" x2="307.1" y2="377.5" stroke="#1e1e1e" stroke-width="1.1"/>
<line x1="308.6" y1="420" x2="308.6" y2="414.75" stroke="#1e1e1e" stroke-width="1.0"/>
<line x1="306" y1="414.75" x2="311.2" y2="414.75" stroke="#1e1e1e" stroke-width="1.1"/>
<line x1="308.6" y1="425" x2="308.6" y2="432.25" stroke="#1e1e1e" stroke-width="1.0"/>
<line x1="306" y1="432.25" x2="311.2" y2="432.25" stroke="#1e1e1e" stroke-width="1.1"/>
<line x1="328.9" y1="433.75" x2="328.9" y2="433" stroke="#1e1e1e" stroke-width="1.0"/>
<line x1="326.3" y1="433" x2="331.5" y2="433" stroke="#1e1e1e" stroke-width="1.1"/>
<line x1="328.9" y1="438.75" x2="328.9" y2="439.5" stroke="#1e1e1e" stroke-width="1.0"/>
<line x1="326.3" y1="439.5" x2="331.5" y2="439.5" stroke="#1e1e1e" stroke-width="1.1"/>
<line x1="350.7" y1="433.5" x2="355.9" y2="433.5" stroke="#1e1e1e" stroke-width="1.1"/>
<line x1="350.7" y1="438.5" x2="355.9" y2="438.5" stroke="#1e1e1e" stroke-width="1.1"/>
<path d="M304.5 370.5 L307.5 375.9 L301.5 375.9 Z" fill="none" stroke="#1e1e1e" stroke-width="1.0" stroke-linejoin="miter"/>
<path d="M308.6 389.75 L311.6 395.15 L305.6 395.15 Z" fill="none" stroke="#1e1e1e" stroke-width="1.0" stroke-linejoin="miter"/>
<path d="M328.9 389.25 L331.9 394.65 L325.9 394.65 Z" fill="none" stroke="#1e1e1e" stroke-width="1.0" stroke-linejoin="miter"/>
<path d="M353.3 393.9 L356.3 399.3 L350.3 399.3 Z" fill="none" stroke="#1e1e1e" stroke-width="1.0" stroke-linejoin="miter"/>
<path d="M402.1 399.5 L405.1 404.9 L399.1 404.9 Z" fill="none" stroke="#1e1e1e" stroke-width="1.0" stroke-linejoin="miter"/>
<path d="M504.1 405.5 L507.1 410.9 L501.1 410.9 Z" fill="none" stroke="#1e1e1e" stroke-width="1.0" stroke-linejoin="miter"/>
<rect x="301.7" y="371.25" width="5.6" height="5" fill="none" stroke="#1e1e1e" stroke-width="1.0"/>
<rect x="305.8" y="420" width="5.6" height="5" fill="none" stroke="#1e1e1e" stroke-width="1.0"/>
<rect x="326.1" y="433.75" width="5.6" height="5" fill="none" stroke="#1e1e1e" stroke-width="1.0"/>
<rect x="350.5" y="433.5" width="5.6" height="5" fill="none" stroke="#1e1e1e" stroke-width="1.0"/>
<rect x="399.3" y="436.5" width="5.6" height="5" fill="none" stroke="#1e1e1e" stroke-width="1.0"/>
<rect x="501.3" y="435" width="5.6" height="5" fill="none" stroke="#1e1e1e" stroke-width="1.0"/>
</svg>
</body></html>
